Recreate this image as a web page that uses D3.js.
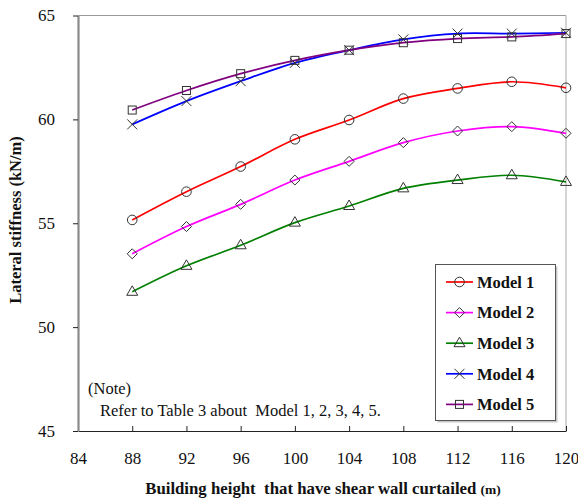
<!DOCTYPE html>
<html><head><meta charset="utf-8">
<script src="https://cdn.jsdelivr.net/npm/d3@7"></script>
<style>
body{margin:0;background:#fff;}
svg text{font-family:"Liberation Serif","Times New Roman","DejaVu Serif",serif;}
</style></head>
<body><svg id="c" width="578" height="499"></svg>
<script>
const heights = [88, 92, 96, 100, 104, 108, 112, 116, 120];
const model1 = [55.16, 56.52, 57.73, 59.04, 59.97, 61.0, 61.49, 61.81, 61.52];
const model2 = [53.53, 54.84, 55.91, 57.08, 57.98, 58.88, 59.44, 59.65, 59.33];
const model3 = [51.70, 52.95, 53.94, 55.03, 55.83, 56.68, 57.08, 57.31, 56.99];
const model4 = [59.76, 60.88, 61.84, 62.72, 63.33, 63.85, 64.13, 64.13, 64.17];
const model5 = [60.45, 61.39, 62.20, 62.84, 63.33, 63.69, 63.89, 63.97, 64.13];
const seriesNames = ["Model 1", "Model 2", "Model 3", "Model 4", "Model 5"];
const seriesColors = ["#ff0000", "#ff00ff", "#008000", "#0000ff", "#800080"];
const seriesMarkers = ["circle", "diamond", "triangle", "cross", "square"];
const xTicks = [84, 88, 92, 96, 100, 104, 108, 112, 116, 120];
const yTicks = [45, 50, 55, 60, 65];

const FONT = '"Liberation Serif","Times New Roman","DejaVu Serif",serif';
const seriesValues = [model1, model2, model3, model4, model5];
const svg = d3.select("#c");
const x = d3.scaleLinear().domain([84, 120]).range([78, 566]);
const y = d3.scaleLinear().domain([45, 65]).range([431, 15.5]);

// frame
svg.append("line").attr("x1",78).attr("x2",566).attr("y1",15.5).attr("y2",15.5).attr("stroke","#9a9a9a").attr("stroke-width",1);
svg.append("line").attr("x1",566).attr("x2",566).attr("y1",15.5).attr("y2",431).attr("stroke","#aaaaaa").attr("stroke-width",1);

// axes
const gx = svg.append("g").attr("transform","translate(0,431)")
  .call(d3.axisBottom(x).tickValues(xTicks).tickSizeInner(-5).tickSizeOuter(0).tickPadding(21));
gx.attr("font-family", FONT);
gx.select(".domain").attr("stroke","#222");
gx.selectAll(".tick line").attr("stroke","#222");
gx.selectAll("text").attr("font-size",17).attr("fill","#111").style("font-family", FONT);

const gy = svg.append("g").attr("transform","translate(78,0)")
  .call(d3.axisLeft(y).tickValues(yTicks).tickSizeInner(5).tickSizeOuter(0).tickPadding(18));
gy.attr("font-family", FONT);
gy.select(".domain").attr("stroke","#8a8a8a").attr("stroke-width",2.2);
gy.selectAll(".tick line").attr("stroke","#222");
gy.selectAll("text").attr("font-size",17).attr("fill","#111").style("font-family", FONT);

// marker drawing
function marker(g, type, cx, cy) {
  const s = "#333";
  if (type === "circle") {
    g.append("circle").attr("cx",cx).attr("cy",cy).attr("r",4.8).attr("fill","none").attr("stroke",s);
  } else if (type === "diamond") {
    const r = 5;
    g.append("path").attr("d",`M${cx},${cy-r}L${cx+r},${cy}L${cx},${cy+r}L${cx-r},${cy}Z`).attr("fill","none").attr("stroke",s);
  } else if (type === "triangle") {
    g.append("path").attr("d",`M${cx},${cy-6}L${cx+5.5},${cy+3.5}L${cx-5.5},${cy+3.5}Z`).attr("fill","none").attr("stroke",s);
  } else if (type === "cross") {
    const r = 5;
    g.append("path").attr("d",`M${cx-r},${cy-r}L${cx+r},${cy+r}M${cx-r},${cy+r}L${cx+r},${cy-r}`).attr("fill","none").attr("stroke",s);
  } else if (type === "square") {
    g.append("rect").attr("x",cx-4).attr("y",cy-4).attr("width",8).attr("height",8).attr("fill","none").attr("stroke",s);
  }
}

const line = d3.line().x(d => x(d[0])).y(d => y(d[1])).curve(d3.curveCatmullRom.alpha(0.5));
seriesValues.forEach((vals, i) => {
  const pts = heights.map((h, j) => [h, vals[j]]);
  svg.append("path").datum(pts).attr("d", line).attr("fill","none")
    .attr("stroke", seriesColors[i]).attr("stroke-width", 1.7);
});
seriesValues.forEach((vals, i) => {
  const g = svg.append("g");
  heights.forEach((h, j) => marker(g, seriesMarkers[i], x(h), y(vals[j])));
});

// legend
const lg = svg.append("g");
lg.append("rect").attr("x",437.5).attr("y",266.5).attr("width",120).attr("height",156).attr("fill","#c8c8c8");
lg.append("rect").attr("x",435.5).attr("y",264.5).attr("width",120).attr("height",156).attr("fill","#fff").attr("stroke","#555");
seriesNames.forEach((n, i) => {
  const ly = 282 + i * 30.6;
  lg.append("line").attr("x1",446).attr("x2",473).attr("y1",ly).attr("y2",ly).attr("stroke",seriesColors[i]).attr("stroke-width",1.7);
  marker(lg, seriesMarkers[i], 459.5, ly);
  lg.append("text").attr("x",477).attr("y",ly).attr("dy","0.35em").attr("font-size",16.5).attr("font-weight","bold").attr("fill","#111").style("font-family", FONT).text(n);
});

// note
svg.append("text").attr("x",88).attr("y",388).attr("dy","0.35em").attr("font-size",16.5).attr("fill","#111").style("font-family", FONT).text("(Note)");
svg.append("text").attr("x",100).attr("y",410).attr("dy","0.35em").attr("font-size",16.5).attr("fill","#111").style("font-family", FONT).style("white-space","pre").text("Refer to Table 3 about  Model 1, 2, 3, 4, 5.");

// axis titles
const xt = svg.append("text").attr("x",323).attr("y",488).attr("dy","0.35em").attr("text-anchor","middle")
  .attr("font-size",16.8).attr("font-weight","bold").attr("fill","#111").style("font-family", FONT).style("white-space","pre");
xt.append("tspan").text("Building height  that have shear wall curtailed ");
xt.append("tspan").attr("font-size",13.5).text("(m)");

svg.append("text").attr("transform","translate(15,220) rotate(-90)").attr("dy","0.35em").attr("text-anchor","middle")
  .attr("font-size",16.5).attr("font-weight","bold").attr("fill","#111").style("font-family", FONT).text("Lateral stiffness (kN/m)");
</script></body></html>
